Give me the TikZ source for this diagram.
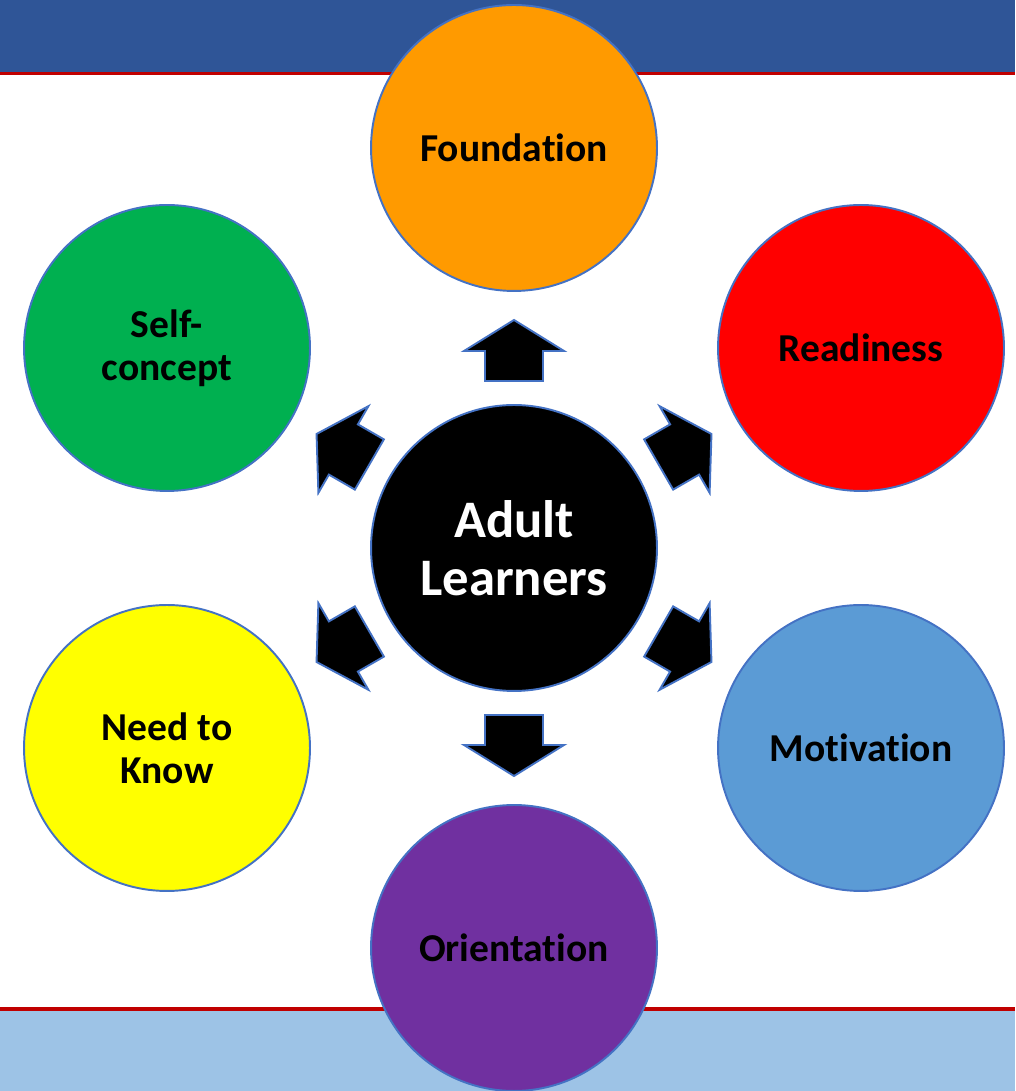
\documentclass[tikz,border=0pt]{standalone}
\usepackage{fontspec}
\setmainfont[Ligatures=NoCommon]{Carlito}

\definecolor{topband}{HTML}{2F5597}
\definecolor{lowband}{HTML}{9DC3E6}
\definecolor{redline}{HTML}{C00000}
\definecolor{rim}{HTML}{4472C4}
\definecolor{cfound}{HTML}{FF9A00}
\definecolor{cready}{HTML}{FF0000}
\definecolor{cself}{HTML}{00B050}
\definecolor{cneed}{HTML}{FFFF00}
\definecolor{cmotiv}{HTML}{5B9BD5}
\definecolor{corient}{HTML}{7030A0}

\tikzset{
	bubble/.style={circle, draw=rim, line width=1.1pt, minimum size=5.72cm, inner sep=0pt,
		align=center, font=\fontsize{22.5}{24.5}\selectfont\bfseries},
	blockarrow/.style={fill=black, draw=rim, line width=1.1pt, line join=miter}
}

\begin{document}
\begin{tikzpicture}[x=0.02cm, y=0.02cm]
	\useasboundingbox (0,0) rectangle (1015,1091);

	% bands
	\fill[topband] (0,1019) rectangle (1015,1091);
	\fill[redline] (0,1016) rectangle (1015,1019);
	\fill[lowband] (0,0) rectangle (1015,80);
	\fill[redline] (0,80) rectangle (1015,84);

	% circles
	\node[bubble, fill=cfound] (found) at (514,943) {Foundation};
	\node[bubble, fill=cready] (ready) at (861,743) {Readiness};
	\node[bubble, fill=cself] (self) at (167,743) {Self-\\concept};
	\node[bubble, fill=cneed] (need) at (167,343) {Need to\\Know};
	\node[bubble, fill=cmotiv] (motiv) at (861,343) {Motivation};
	\node[bubble, fill=corient] (orient) at (514,143) {Orientation};
	\node[bubble, fill=black, text=white, font=\fontsize{30}{33}\selectfont\bfseries] (adult) at (514,543) {Adult\\Learners};

	% arrows
	\foreach \a in {90,30,-30,-90,210,150} {
		\begin{scope}[shift={(adult.center)}, rotate=\a]
			\draw[blockarrow] (167,-29) -- (197,-29) -- (197,-50) -- (228,0)
				-- (197,50) -- (197,29) -- (167,29) -- cycle;
		\end{scope}
	}
\end{tikzpicture}
\end{document}
